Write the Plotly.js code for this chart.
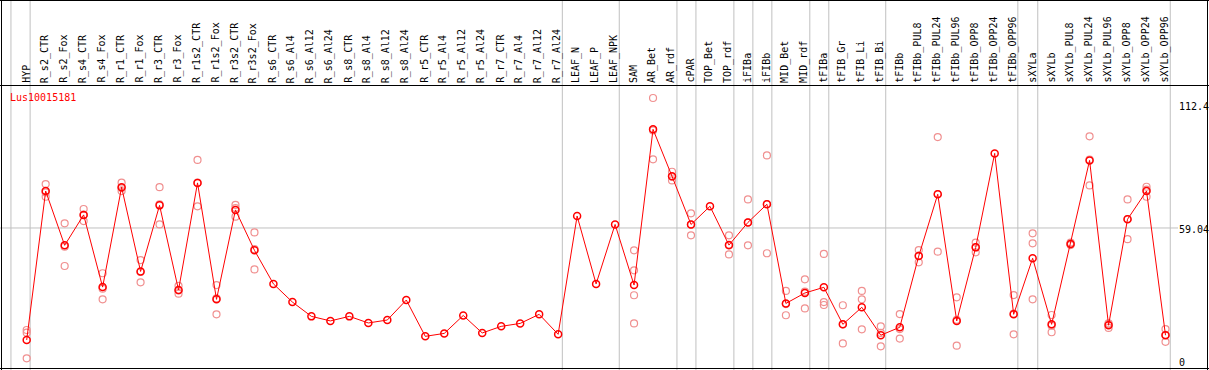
<!DOCTYPE html>
<html>
<head>
<meta charset="utf-8">
<script src="https://cdn.plot.ly/plotly-3.0.1.min.js"></script>
<style>html,body{margin:0;padding:0;background:#fff;}#chart{width:1209px;height:370px;}</style>
</head>
<body>
<div id="chart"></div>
<script>
const geneName = "Lus10015181";

const categories = ["HYP","R_s2_CTR","R_s2_Fox","R_s4_CTR","R_s4_Fox","R_r1_CTR","R_r1_Fox","R_r3_CTR","R_r3_Fox","R_r1s2_CTR","R_r1s2_Fox","R_r3s2_CTR","R_r3s2_Fox","R_s6_CTR","R_s6_Al4","R_s6_Al12","R_s6_Al24","R_s8_CTR","R_s8_Al4","R_s8_Al12","R_s8_Al24","R_r5_CTR","R_r5_Al4","R_r5_Al12","R_r5_Al24","R_r7_CTR","R_r7_Al4","R_r7_Al12","R_r7_Al24","LEAF_N","LEAF_P","LEAF_NPK","SAM","AR_Bet","AR_rdf","cPAR","TOP_Bet","TOP_rdf","iFIBa","iFIBb","MID_Bet","MID_rdf","tFIBa","tFIB_Gr","tFIB_Li","tFIB_Bi","tFIBb","tFIBb_PUL8","tFIBb_PUL24","tFIBb_PUL96","tFIBb_OPP8","tFIBb_OPP24","tFIBb_OPP96","sXYLa","sXYLb","sXYLb_PUL8","sXYLb_PUL24","sXYLb_PUL96","sXYLb_OPP8","sXYLb_OPP24","sXYLb_OPP96"];

const meanValues = [9.7,75.3,51.4,64.8,33.0,77.0,39.9,69.0,31.7,78.9,27.6,67.0,49.2,34.4,26.4,20.1,18.1,20.1,17.2,18.5,27.3,11.3,12.6,20.5,12.8,15.7,17.0,21.0,12.2,64.3,34.4,60.6,33.9,102.5,81.8,60.6,68.6,51.5,61.5,69.5,25.8,30.4,32.9,16.6,24.1,11.8,15.3,46.7,73.9,18.1,50.5,91.9,21.0,45.7,16.6,52.0,88.8,16.2,62.9,75.3,11.8];

const replicateValues = [
  [14.1,12.9,1.6],[78.4,72.8,74.7],[61.1,42.3,50.8],[67.4,62.1,64.9],[39.1,27.6,32.3],
  [79.0,75.3,76.7],[44.9,35.1,39.7],[77.0,60.6,69.4],[33.5,30.1,31.5],[89.0,68.6,79.0],
  [33.9,21.0,28.0],[69.2,64.0,67.8],[57.1,40.8,49.7],[],[],
  [],[],[],[],[],
  [],[],[],[],[],
  [],[],[],[],[],
  [],[],[49.2,40.4,29.4,17.0],[116.3,89.3,102.0],[83.8,80.0,81.6],
  [65.5,55.8,60.5],[],[55.8,47.4,51.3],[71.6,51.4,61.5],[91.0,47.9,69.6],
  [31.3,20.6,25.5],[36.4,23.6,31.0],[47.6,26.4,25.1],[25.0,8.2,16.6],[31.3,27.6,14.4],
  [15.7,6.9,12.8],[21.1,10.3,14.5],[49.3,43.9,46.9],[99.1,48.6,74.0],[28.5,7.2,18.6],
  [52.6,48.3,50.6],[],[29.5,12.2,21.3],[56.7,52.3,27.6],[20.7,13.1,16.0],
  [52.6,51.5,52.0],[99.4,77.8,89.2],[17.0,15.0,16.6],[71.6,54.1,63.0],[77.2,72.8,75.9],
  [14.5,8.9,12.0]
];

// group separators (positions in category-index units)
const separatorPositions = [-0.83,0.18,28.22,31.22,34.26,35.26,37.26,38.26,39.26,41.26,42.26,45.26,52.22,53.27,60.25];

const tickValues = [112.4, 59.04, 0];
const tickLabels = ["112.4", "59.04", "0"];
const gridValue = 59.04;

const W = 1209, H = 370;
const idx = categories.map((c, i) => i);

const repX = [], repY = [];
replicateValues.forEach((arr, i) => arr.forEach(v => { repX.push(i); repY.push(v); }));

const FONT = "DejaVu Sans Mono, Liberation Mono, monospace";

const traces = [
  {
    x: repX, y: repY, type: "scatter", mode: "markers",
    marker: {symbol: "circle-open", size: 7, color: "#f09090", line: {width: 1.2, color: "#f09090"}},
    hoverinfo: "skip", showlegend: false
  },
  {
    x: idx, y: meanValues, type: "scatter", mode: "lines+markers",
    line: {color: "#ff0000", width: 1},
    marker: {symbol: "circle-open", size: 7, color: "#ff0000", line: {width: 1.5, color: "#ff0000"}},
    showlegend: false
  }
];

const headerBottomPx = 85.5;
const yDomTop = (H - headerBottomPx) / H;

const shapes = [];
separatorPositions.forEach(p => shapes.push({
  type: "line", xref: "x", yref: "paper", x0: p, x1: p, y0: 0, y1: 1,
  line: {color: "#c0c0c0", width: 1}, layer: "below"
}));
shapes.push({
  type: "line", xref: "paper", yref: "y", x0: 0, x1: 1178 / W, y0: gridValue, y1: gridValue,
  line: {color: "#c0c0c0", width: 1}, layer: "below"
});
shapes.push({type: "line", xref: "paper", yref: "paper", x0: 0, x1: 1, y0: 1 - 0.5 / H, y1: 1 - 0.5 / H, line: {color: "#000", width: 1}});
shapes.push({type: "line", xref: "paper", yref: "paper", x0: 0, x1: 1, y0: yDomTop, y1: yDomTop, line: {color: "#000", width: 1}});
shapes.push({type: "line", xref: "paper", yref: "paper", x0: 0, x1: 1, y0: 1.5 / H, y1: 1.5 / H, line: {color: "#000", width: 1}});
shapes.push({type: "line", xref: "paper", yref: "paper", x0: 1.5 / W, x1: 1.5 / W, y0: 0, y1: 1, line: {color: "#000", width: 1}});
shapes.push({type: "line", xref: "paper", yref: "paper", x0: 1207.5 / W, x1: 1207.5 / W, y0: 0, y1: 1, line: {color: "#000", width: 1}});

const annotations = [];
categories.forEach((c, i) => annotations.push({
  x: i, xref: "x", y: (H - 84) / H, yref: "paper",
  text: c, showarrow: false, textangle: -90,
  xanchor: "center", yanchor: "bottom", borderpad: 0, xshift: -1,
  font: {family: FONT, size: 10, color: "#000"}
}));
tickValues.forEach((v, k) => annotations.push({
  x: 1178 / W, xref: "paper", y: v, yref: "y",
  text: tickLabels[k], showarrow: false, xanchor: "left", yanchor: "middle",
  yshift: k === 1 ? -2 : 0, borderpad: 0,
  font: {family: FONT, size: 10, color: "#000"}
}));
annotations.push({
  x: 9 / W, xref: "paper", y: (H - 97) / H, yref: "paper",
  text: geneName, showarrow: false, xanchor: "left", yanchor: "middle", borderpad: 0,
  font: {family: FONT, size: 10, color: "#ff0000"}
});

const pxPerCat = 18.98, firstPx = 26.7;
const xLo = -firstPx / pxPerCat;
const xHi = xLo + W / pxPerCat;
const pxPerUnit = 2.27, zeroPx = 362;
const yLo = (zeroPx - H) / pxPerUnit;
const yHi = (zeroPx - headerBottomPx) / pxPerUnit;

const layout = {
  width: W, height: H,
  margin: {l: 0, r: 0, t: 0, b: 0, pad: 0},
  paper_bgcolor: "#fff", plot_bgcolor: "#fff",
  xaxis: {range: [xLo, xHi], showgrid: false, zeroline: false, showticklabels: false, ticks: "", showline: false, fixedrange: true},
  yaxis: {domain: [0, yDomTop], range: [yLo, yHi], showgrid: false, zeroline: false, showticklabels: false, ticks: "", showline: false, fixedrange: true},
  shapes: shapes,
  annotations: annotations,
  showlegend: false
};

Plotly.newPlot("chart", traces, layout, {staticPlot: true, displayModeBar: false});
</script>
</body>
</html>
